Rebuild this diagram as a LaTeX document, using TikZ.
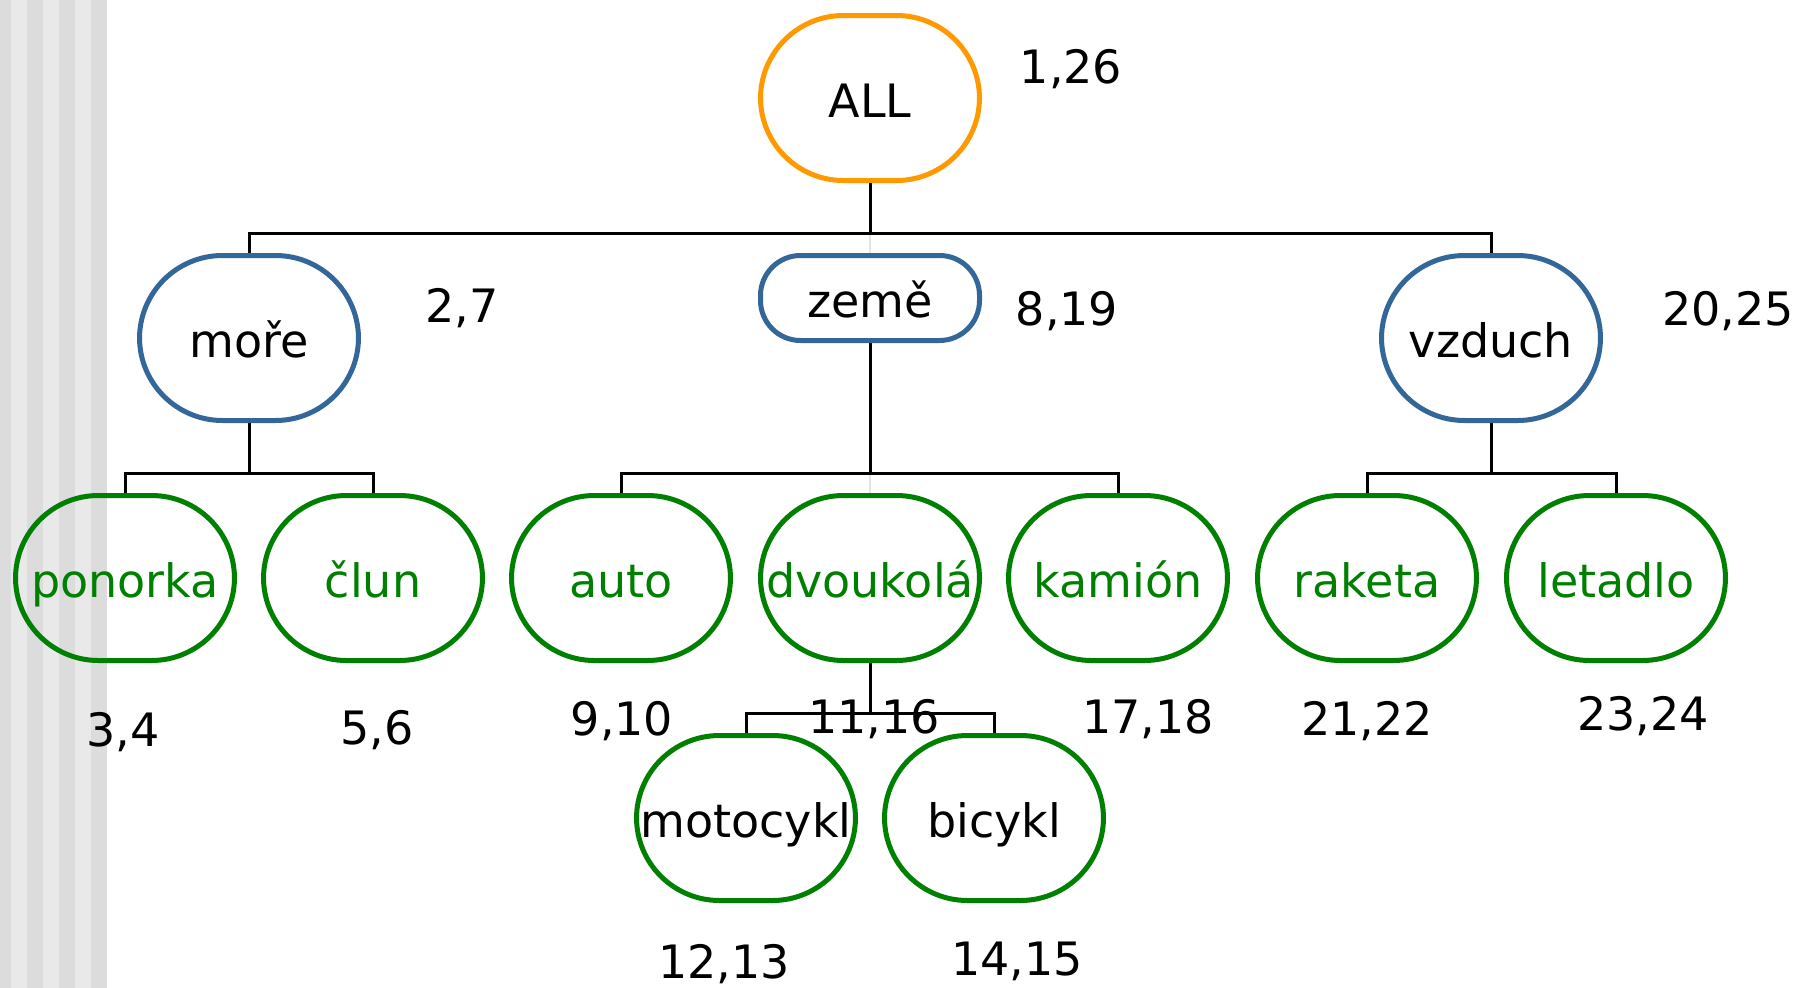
\documentclass[tikz,border=0pt]{standalone}
\usepackage{fontspec}
\setmainfont{DejaVu Sans}
\definecolor{allorange}{HTML}{FF9900}
\definecolor{lvlblue}{HTML}{336699}
\definecolor{lvlgreen}{HTML}{008000}
\definecolor{stripedark}{HTML}{DCDCDC}
\definecolor{stripelight}{HTML}{E9E9E9}
\definecolor{ghostline}{HTML}{E4E4E4}
\tikzset{
  txt/.style={font=\fontsize{46}{55}\selectfont},
  nd/.style={draw, line width=5pt, rounded corners=83pt, minimum width=219pt,
    minimum height=165pt, inner sep=0pt, text height=38pt, text depth=0pt, txt},
  flat/.style={nd, rounded corners=40pt, minimum height=85pt},
  rootnd/.style={nd, draw=allorange, text=black},
  midnd/.style={draw=lvlblue, text=black},
  leafnd/.style={nd, draw=lvlgreen, text=lvlgreen},
  blackleaf/.style={nd, draw=lvlgreen, text=black},
  lab/.style={anchor=base, inner sep=0pt, txt},
  conn/.style={line width=3pt, black},
  ghost/.style={line width=2pt, ghostline},
}
\begin{document}
\begin{tikzpicture}[x=1pt, y=-1pt]
\useasboundingbox (0,0) rectangle (1800,988);
% background stripes
\fill[white] (0,0) rectangle (1800,988);
\fill[stripedark] (0,0) rectangle (11,988);
\fill[stripelight] (11,0) rectangle (27,988);
\fill[stripedark] (27,0) rectangle (43,988);
\fill[stripelight] (43,0) rectangle (59,988);
\fill[stripedark] (59,0) rectangle (75,988);
\fill[stripelight] (75,0) rectangle (91,988);
\fill[stripedark] (91,0) rectangle (107,988);

% nodes
\node[rootnd] (all) at (870,98) {ALL};
\node[nd, midnd] (more) at (249,338) {moře};
\node[flat, midnd] (zeme) at (870,298) {země};
\node[nd, midnd] (vzduch) at (1491,338) {vzduch};

\node[leafnd] (ponorka) at (125,578) {ponorka};
\node[leafnd] (clun) at (373,578) {člun};
\node[leafnd] (auto) at (621,578) {auto};
\node[leafnd] (dvoukola) at (870,578) {dvoukolá};
\node[leafnd] (kamion) at (1118,578) {kamión};
\node[leafnd] (raketa) at (1367,578) {raketa};
\node[leafnd] (letadlo) at (1616,578) {letadlo};

\node[blackleaf] (motocykl) at (746,818) {motocykl};
\node[blackleaf] (bicykl) at (994,818) {bicykl};

% bar levels
\coordinate (bA) at (870,233);
\coordinate (bM) at (249,473);
\coordinate (bZ) at (870,473);
\coordinate (bV) at (1491,473);
\coordinate (bD) at (870,713);

% ghost lines to middle children
\draw[ghost] (bA) -- (zeme.north);
\draw[ghost] (bZ) -- (dvoukola.north);

% connectors
\draw[conn] (all.south) -- (all.south |- bA) -| (more.north);
\draw[conn] (all.south |- bA) -| (vzduch.north);
\draw[conn] (more.south) -- (more.south |- bM) -| (ponorka.north);
\draw[conn] (more.south |- bM) -| (clun.north);
\draw[conn] (zeme.south) -- (zeme.south |- bZ) -| (auto.north);
\draw[conn] (zeme.south |- bZ) -| (kamion.north);
\draw[conn] (vzduch.south) -- (vzduch.south |- bV) -| (raketa.north);
\draw[conn] (vzduch.south |- bV) -| (letadlo.north);
\draw[conn] (dvoukola.south) -- (dvoukola.south |- bD) -| (motocykl.north);
\draw[conn] (dvoukola.south |- bD) -| (bicykl.north);

% number labels
\node[lab] (l1) at (1071,83) {1,26};
\node[lab] (l2) at (462,322) {2,7};
\node[lab] (l3) at (1067,325) {8,19};
\node[lab] (l4) at (1728,325) {20,25};
\node[lab] (l5) at (123,746) {3,4};
\node[lab] (l6) at (377,744) {5,6};
\node[lab] (l7) at (622,735) {9,10};
\node[lab] (l8) at (874,733) {11,16};
\node[lab] (l9) at (1148,733) {17,18};
\node[lab] (l10) at (1367,735) {21,22};
\node[lab] (l11) at (1643,730) {23,24};
\node[lab] (l12) at (724,978) {12,13};
\node[lab] (l13) at (1017,975) {14,15};
\end{tikzpicture}
\end{document}
